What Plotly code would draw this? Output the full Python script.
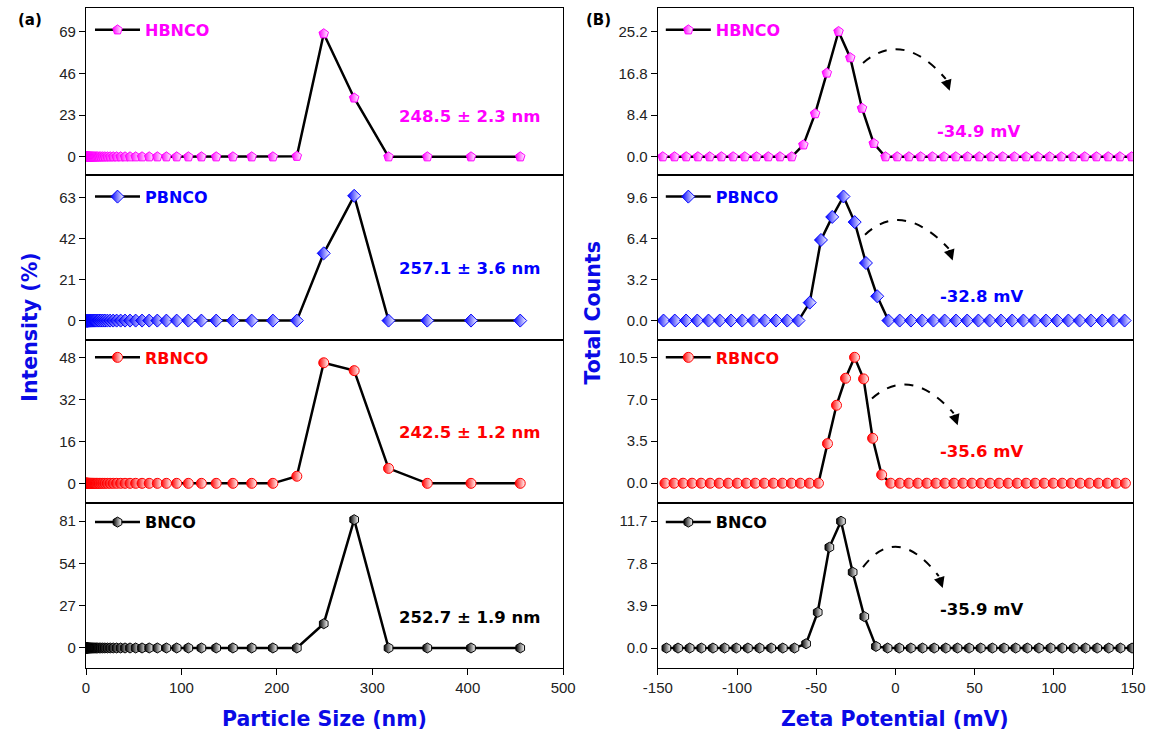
import plotly.graph_objects as go
from plotly.subplots import make_subplots

# ---------------- data ----------------
names = ["HBNCO", "PBNCO", "RBNCO", "BNCO"]
colors = ["#ff00ff", "#0000ff", "#ff0000", "#000000"]
symbols = ["pentagon", "diamond", "circle", "hexagon"]

# particle size bins (nm), shared by all DLS curves
size_nm = [0.42, 0.48, 0.54, 0.61, 0.68, 0.77, 0.87, 0.98, 1.10, 1.25,
           1.40, 1.58, 1.79, 2.02, 2.27, 2.56, 2.89, 3.26, 3.68, 4.15,
           4.68, 5.28, 5.96, 6.72, 7.58, 8.55, 9.65, 10.9, 12.3, 13.8,
           15.6, 17.6, 19.8, 22.4, 25.3, 28.5, 32.1, 36.3, 40.9, 46.1,
           52.0, 58.7, 66.2, 74.7, 84.2, 95.0, 107.2, 120.9, 136.4, 153.9,
           173.6, 195.8, 220.9, 249.1, 281.0, 317.0, 357.6, 403.4, 455.0]

hb_intensity = [0, 0, 0, 0, 0, 0, 0, 0, 0, 0,
                0, 0, 0, 0, 0, 0, 0, 0, 0, 0,
                0, 0, 0, 0, 0, 0, 0, 0, 0, 0,
                0, 0, 0, 0, 0, 0, 0, 0, 0, 0,
                0, 0, 0, 0, 0, 0, 0, 0, 0, 0,
                0, 0, 0.3, 68, 32.5, 0, 0, 0, 0]
pb_intensity = [0, 0, 0, 0, 0, 0, 0, 0, 0, 0,
                0, 0, 0, 0, 0, 0, 0, 0, 0, 0,
                0, 0, 0, 0, 0, 0, 0, 0, 0, 0,
                0, 0, 0, 0, 0, 0, 0, 0, 0, 0,
                0, 0, 0, 0, 0, 0, 0, 0, 0, 0,
                0, 0, 0, 34.5, 64, 0, 0, 0, 0]
rb_intensity = [0, 0, 0, 0, 0, 0, 0, 0, 0, 0,
                0, 0, 0, 0, 0, 0, 0, 0, 0, 0,
                0, 0, 0, 0, 0, 0, 0, 0, 0, 0,
                0, 0, 0, 0, 0, 0, 0, 0, 0, 0,
                0, 0, 0, 0, 0, 0, 0, 0, 0, 0,
                0, 0, 2.7, 46, 43, 5.7, 0, 0, 0]
b_intensity = [0, 0, 0, 0, 0, 0, 0, 0, 0, 0,
               0, 0, 0, 0, 0, 0, 0, 0, 0, 0,
               0, 0, 0, 0, 0, 0, 0, 0, 0, 0,
               0, 0, 0, 0, 0, 0, 0, 0, 0, 0,
               0, 0, 0, 0, 0, 0, 0, 0, 0, 0,
               0, 0, 0, 15.5, 82, 0, 0, 0, 0]

hb_zeta = [-146.9, -139.5, -132.1, -124.7, -117.3, -109.9, -102.5, -95.1, -87.7, -80.3,
           -72.9, -65.5, -58.1, -50.7, -43.3, -35.9, -28.5, -21.1, -13.7, -6.3,
           1.1, 8.5, 15.9, 23.3, 30.7, 38.1, 45.5, 52.9, 60.3, 67.7,
           75.1, 82.5, 89.9, 97.3, 104.7, 112.1, 119.5, 126.9, 134.3, 141.7, 149.1]
hb_counts = [0, 0, 0, 0, 0, 0, 0, 0, 0, 0,
             0, 0, 2.4, 8.7, 16.9, 25.3, 20.0, 9.8, 2.7, 0,
             0, 0, 0, 0, 0, 0, 0, 0, 0, 0,
             0, 0, 0, 0, 0, 0, 0, 0, 0, 0, 0]

pb_zeta = [-146.4, -139.3, -132.2, -125.1, -118.0, -110.9, -103.8, -96.7, -89.6, -82.5,
           -75.4, -68.3, -61.2, -54.1, -47.0, -39.9, -32.8, -25.7, -18.6, -11.5,
           -4.4, 2.7, 9.8, 16.9, 24.0, 31.1, 38.2, 45.3, 52.4, 59.5,
           66.6, 73.7, 80.8, 87.9, 95.0, 102.1, 109.2, 116.3, 123.4, 130.5, 137.6, 144.7]
pb_counts = [0, 0, 0, 0, 0, 0, 0, 0, 0, 0,
             0, 0, 0, 1.4, 6.3, 8.1, 9.7, 7.7, 4.5, 1.9,
             0, 0, 0, 0, 0, 0, 0, 0, 0, 0,
             0, 0, 0, 0, 0, 0, 0, 0, 0, 0, 0, 0]

rb_zeta = [-145.5, -139.8, -134.1, -128.4, -122.7, -117.0, -111.3, -105.6, -99.9, -94.2,
           -88.5, -82.8, -77.1, -71.4, -65.7, -60.0, -54.3, -48.6, -42.9, -37.2,
           -31.5, -25.8, -20.1, -14.4, -8.7, -3.0, 2.7, 8.4, 14.1, 19.8,
           25.5, 31.2, 36.9, 42.6, 48.3, 54.0, 59.7, 65.4, 71.1, 76.8,
           82.5, 88.2, 93.9, 99.6, 105.3, 111.0, 116.7, 122.4, 128.1, 133.8, 139.5, 145.2]
rb_counts = [0, 0, 0, 0, 0, 0, 0, 0, 0, 0,
             0, 0, 0, 0, 0, 0, 0, 0, 3.3, 6.5,
             8.75, 10.5, 8.7, 3.75, 0.7, 0, 0, 0, 0, 0,
             0, 0, 0, 0, 0, 0, 0, 0, 0, 0,
             0, 0, 0, 0, 0, 0, 0, 0, 0, 0, 0, 0]

b_zeta = [-144.6, -137.25, -129.9, -122.55, -115.2, -107.85, -100.5, -93.15, -85.8, -78.45,
          -71.1, -63.75, -56.4, -49.05, -41.7, -34.35, -27.0, -19.65, -12.3, -4.95,
          2.4, 9.75, 17.1, 24.45, 31.8, 39.15, 46.5, 53.85, 61.2, 68.55,
          75.9, 83.25, 90.6, 97.95, 105.3, 112.65, 120.0, 127.35, 134.7, 142.05, 149.4]
b_counts = [0, 0, 0, 0, 0, 0, 0, 0, 0, 0,
            0, 0, 0.4, 3.3, 9.3, 11.7, 7.0, 2.9, 0.15, 0,
            0, 0, 0, 0, 0, 0, 0, 0, 0, 0,
            0, 0, 0, 0, 0, 0, 0, 0, 0, 0, 0]

intensities = [hb_intensity, pb_intensity, rb_intensity, b_intensity]
zetas = [hb_zeta, pb_zeta, rb_zeta, b_zeta]
counts = [hb_counts, pb_counts, rb_counts, b_counts]

size_labels = ["248.5 ± 2.3 nm", "257.1 ± 3.6 nm", "242.5 ± 1.2 nm", "252.7 ± 1.9 nm"]
zeta_labels = ["-34.9 mV", "-32.8 mV", "-35.6 mV", "-35.9 mV"]

size_ticks = [0, 100, 200, 300, 400, 500]
zeta_ticks = [-150, -100, -50, 0, 50, 100, 150]
zeta_ticktext = ["-150", "-100", "-50", "0", "50", "100", "150"]
left_ticks = [[0, 23, 46, 69], [0, 21, 42, 63], [0, 16, 32, 48], [0, 27, 54, 81]]
right_ticks = [[0.0, 8.4, 16.8, 25.2], [0.0, 3.2, 6.4, 9.6], [0.0, 3.5, 7.0, 10.5], [0.0, 3.9, 7.8, 11.7]]
left_ranges = [[-9.9, 82.2], [-10.2, 74.8], [-7.6, 54.5], [-12.8, 92.5]]
right_ranges = [[-3.63, 30.04], [-1.56, 11.4], [-1.67, 11.9], [-1.84, 13.36]]

# ---------------- geometry ----------------
W, H = 1153, 738
L, R, T, B = 86, 16, 7, 70
PW, PH = W - L - R, H - T - B


def px(xp):
    return (xp - L) / PW


def py(yp):
    return (H - B - yp) / PH


row_edges = [7, 174, 340, 503, 668]
left_dom = [px(86), px(565)]
right_dom = [px(660), px(1137)]

fig = make_subplots(rows=4, cols=2)

tick_font = dict(family="Liberation Sans", size=15, color="#222")
axis_common = dict(showline=True, linecolor="black", linewidth=1.3, mirror=True,
                   showgrid=False, zeroline=False)

for i in range(4):
    col = colors[i]
    marker = dict(symbol=symbols[i], size=10, color=col,
                  line=dict(color=col, width=1),
                  gradient=dict(type="horizontal", color="white"))
    fig.add_trace(go.Scatter(x=size_nm, y=intensities[i], mode="lines+markers",
                             line=dict(color="black", width=2.5), marker=marker,
                             name=names[i], legend="legend" if i == 0 else f"legend{2*i+1}"),
                  row=i + 1, col=1)
    fig.add_trace(go.Scatter(x=zetas[i], y=counts[i], mode="lines+markers",
                             line=dict(color="black", width=2.5), marker=marker,
                             name=names[i], legend=f"legend{2*i+2}"),
                  row=i + 1, col=2)

layout_upd = {}
for i in range(4):
    ydom = [py(row_edges[i + 1]), py(row_edges[i])]
    nl = 2 * i + 1
    nr = 2 * i + 2
    xl = "xaxis" if nl == 1 else f"xaxis{nl}"
    yl = "yaxis" if nl == 1 else f"yaxis{nl}"
    xr = f"xaxis{nr}"
    yr = f"yaxis{nr}"
    bottom = (i == 3)
    layout_upd[xl] = dict(domain=left_dom, range=[0, 500], tickvals=size_ticks,
                          ticks="outside" if bottom else "", ticklen=6, tickwidth=1.2,
                          tickcolor="black", showticklabels=bottom, tickfont=tick_font,
                          **axis_common)
    layout_upd[xr] = dict(domain=right_dom, range=[-150, 150], tickvals=zeta_ticks,
                          ticktext=zeta_ticktext,
                          ticks="outside" if bottom else "", ticklen=6, tickwidth=1.2,
                          tickcolor="black", showticklabels=bottom, tickfont=tick_font,
                          **axis_common)
    layout_upd[yl] = dict(domain=ydom, range=left_ranges[i], tickvals=left_ticks[i],
                          ticks="outside", ticklen=6, tickwidth=1.2, tickcolor="black",
                          tickfont=tick_font, **axis_common)
    layout_upd[yr] = dict(domain=ydom, range=right_ranges[i], tickvals=right_ticks[i],
                          tickformat=".1f", ticks="outside", ticklen=6, tickwidth=1.2,
                          tickcolor="black", tickfont=tick_font, **axis_common)

legend_y = [29, 196, 357, 522]
for i in range(4):
    for side in range(2):
        n = 2 * i + 1 + side
        key = "legend" if n == 1 else f"legend{n}"
        layout_upd[key] = dict(x=px(90 if side == 0 else 663), y=py(legend_y[i]),
                               xanchor="left", yanchor="middle",
                               bgcolor="rgba(0,0,0,0)", borderwidth=0,
                               itemwidth=45,
                               font=dict(family="DejaVu Sans", size=16,
                                         color=colors[i], weight="bold"))

fig.update_layout(**layout_upd)

annotations = []
size_pos = [(471, 116), (471, 268), (471, 432), (471, 617)]
zeta_pos = [(982, 131), (985, 296), (985, 451), (985, 609)]
label_font = "DejaVu Sans"
for i in range(4):
    annotations.append(dict(x=px(size_pos[i][0]), y=py(size_pos[i][1]), xref="paper", yref="paper",
                            xanchor="center", yanchor="middle",
                            text=f"<b>{size_labels[i]}</b>", showarrow=False,
                            font=dict(family=label_font, size=16.5, color=colors[i])))
    annotations.append(dict(x=px(zeta_pos[i][0]), y=py(zeta_pos[i][1]), xref="paper", yref="paper",
                            xanchor="center", yanchor="middle",
                            text=f"<b>{zeta_labels[i]}</b>", showarrow=False,
                            font=dict(family=label_font, size=16.5, color=colors[i])))

# curved dashed arrows
curves = [((866, 62), (906, 28), (949, 78), (953, 90)),
          ((868, 234), (906, 199), (952, 248), (956, 260)),
          ((875, 398), (914, 364), (957, 413), (961, 425)),
          ((866, 567), (900, 522), (942, 576), (946, 588))]
shapes = []
for s, c, e, tip in curves:
    path = f"M {px(s[0])},{py(s[1])} Q {px(c[0])},{py(c[1])} {px(e[0])},{py(e[1])}"
    shapes.append(dict(type="path", path=path, xref="paper", yref="paper",
                       line=dict(color="black", width=2, dash="dash")))
    annotations.append(dict(x=px(tip[0]), y=py(tip[1]), xref="paper", yref="paper",
                            ax=e[0] - tip[0], ay=e[1] - tip[1], text="", showarrow=True,
                            arrowhead=2, arrowsize=1.1, arrowwidth=2, arrowcolor="black"))

title_font = dict(family=label_font, size=20.5, color="#0a0ae6")
annotations += [
    dict(x=px(325), y=py(719), xref="paper", yref="paper", text="<b>Particle Size (nm)</b>",
         xanchor="center", yanchor="middle", showarrow=False, font=title_font),
    dict(x=px(898), y=py(719), xref="paper", yref="paper", text="<b>Zeta Potential (mV)</b>",
         xanchor="center", yanchor="middle", showarrow=False, font=title_font),
    dict(x=px(29), y=py(327), xref="paper", yref="paper", text="<b>Intensity (%)</b>",
         xanchor="center", yanchor="middle", showarrow=False, textangle=-90, font=title_font),
    dict(x=px(594), y=py(313), xref="paper", yref="paper", text="<b>Total Counts</b>",
         xanchor="center", yanchor="middle", showarrow=False, textangle=-90, font=title_font),
    dict(x=px(30), y=py(19), xref="paper", yref="paper", text="<b>(a)</b>",
         xanchor="center", yanchor="middle", showarrow=False,
         font=dict(family="DejaVu Sans", size=15, color="black")),
    dict(x=px(600), y=py(19), xref="paper", yref="paper", text="<b>(B)</b>",
         xanchor="center", yanchor="middle", showarrow=False,
         font=dict(family="DejaVu Sans", size=15, color="black")),
]

fig.update_layout(width=W, height=H, margin=dict(l=L, r=R, t=T, b=B),
                  paper_bgcolor="white", plot_bgcolor="white",
                  annotations=annotations, shapes=shapes, showlegend=True)

fig.write_html("out.html")
